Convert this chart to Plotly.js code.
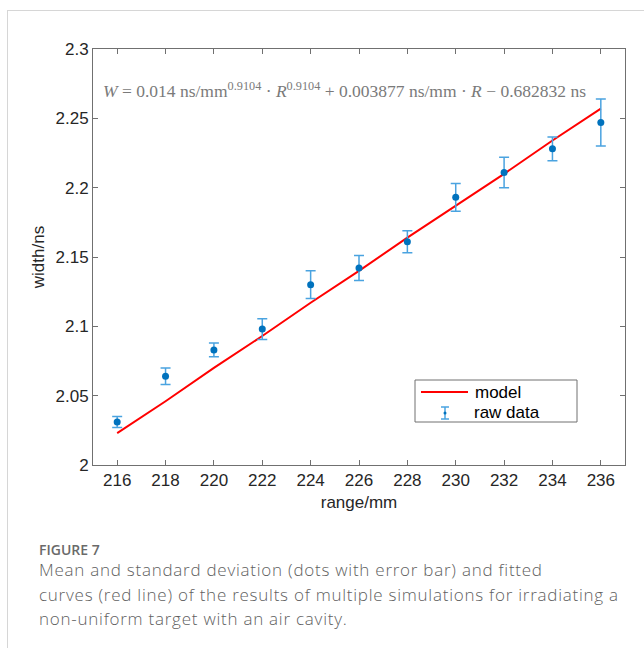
<!DOCTYPE html>
<html>
<head>
<meta charset="utf-8">
<script src="https://cdn.plot.ly/plotly-3.0.1.min.js"></script>
<style>
html,body{margin:0;padding:0;background:#fff;width:644px;height:648px;overflow:hidden;}
#frame{position:absolute;left:7px;top:10px;width:700px;height:700px;border:1px solid #d6d6d6;box-sizing:border-box;}
#chart{position:absolute;left:0;top:0;width:644px;height:648px;}
.cap{position:absolute;left:39px;white-space:nowrap;font-family:"Open Sans","Noto Sans",sans-serif;color:#666;}
.fig{font-size:14px;font-weight:600;color:#6a6a6a;top:542px;line-height:16px;}
.txt{font-size:17px;font-weight:300;letter-spacing:0.75px;line-height:20px;color:#5f5f5f;}
</style>
</head>
<body>
<div id="frame"></div>
<div id="chart"></div>
<div class="cap fig">FIGURE 7</div>
<div class="cap txt" style="top:560px">Mean and standard deviation (dots with error bar) and fitted</div>
<div class="cap txt" style="top:585px">curves (red line) of the results of multiple simulations for irradiating a</div>
<div class="cap txt" style="top:609px">non-uniform target with an air cavity.</div>
<script>
// data
var rangeMM = [216, 218, 220, 222, 224, 226, 228, 230, 232, 234, 236];
var widthMean = [2.031, 2.064, 2.083, 2.098, 2.130, 2.142, 2.161, 2.193, 2.211, 2.228, 2.247];
var widthStd = [0.004, 0.006, 0.005, 0.0075, 0.010, 0.009, 0.008, 0.010, 0.011, 0.0086, 0.017];
var modelWidth = [2.023, 2.046, 2.070, 2.093, 2.117, 2.140, 2.164, 2.187, 2.210, 2.234, 2.257];
var xTicks = [216, 218, 220, 222, 224, 226, 228, 230, 232, 234, 236];
var yTicks = [2, 2.05, 2.1, 2.15, 2.2, 2.25, 2.3];
var yTickText = ['2', '2.05', '2.1', '2.15', '2.2', '2.25', '2.3'];
var legendNames = ['model', 'raw data'];

var W = 644, H = 648, M = {l: 93, r: 19, t: 49, b: 183};
var pw = W - M.l - M.r, ph = H - M.t - M.b;
function px(x) { return (x - M.l) / pw; }
function py(y) { return (H - M.b - y) / ph; }

var lineColor = '#ff0000', dotColor = '#0072bd', errColor = '#4aa3e0', axColor = '#707070';
var axisFont = {family: 'Liberation Sans, Arial, sans-serif', size: 17, color: '#262626'};
var traces = [
  {x: rangeMM, y: modelWidth, mode: 'lines', name: legendNames[0],
   line: {color: lineColor, width: 2}},
  {x: rangeMM, y: widthMean, mode: 'markers', name: legendNames[1],
   marker: {color: dotColor, size: 7},
   error_y: {type: 'data', array: widthStd, visible: true, color: errColor, thickness: 1.5, width: 5}}
];
var common = {showline: true, linecolor: axColor, linewidth: 1, mirror: 'ticks', ticks: 'inside',
  ticklen: 5, tickcolor: axColor, showgrid: false, zeroline: false, tickfont: axisFont};

// custom legend (box, line sample, error-bar glyph, labels)
var shapes = [
  {type: 'rect', xref: 'paper', yref: 'paper', x0: px(415), x1: px(577), y0: py(422), y1: py(380),
   line: {color: axColor, width: 1}, fillcolor: '#ffffff', layer: 'above'},
  {type: 'line', xref: 'paper', yref: 'paper', x0: px(421), x1: px(468), y0: py(392), y1: py(392),
   line: {color: lineColor, width: 2}, layer: 'above'},
  {type: 'line', xref: 'paper', yref: 'paper', x0: px(445), x1: px(445), y0: py(419), y1: py(407),
   line: {color: errColor, width: 1.5}, layer: 'above'},
  {type: 'line', xref: 'paper', yref: 'paper', x0: px(441), x1: px(449), y0: py(407), y1: py(407),
   line: {color: errColor, width: 1.5}, layer: 'above'},
  {type: 'line', xref: 'paper', yref: 'paper', x0: px(441), x1: px(449), y0: py(419), y1: py(419),
   line: {color: errColor, width: 1.5}, layer: 'above'},
  {type: 'circle', xref: 'paper', yref: 'paper', x0: px(443.5), x1: px(446.5), y0: py(414.5), y1: py(411.5),
   line: {color: dotColor, width: 0}, fillcolor: dotColor, layer: 'above'}
];
var legFont = {family: 'Liberation Sans, Arial, sans-serif', size: 17, color: '#000'};
var layout = {
  width: W, height: H,
  paper_bgcolor: 'rgba(0,0,0,0)', plot_bgcolor: '#fff',
  margin: M,
  showlegend: false,
  xaxis: Object.assign({}, common, {range: [215, 237], tickvals: xTicks,
    title: {text: 'range/mm', font: axisFont, standoff: 6}}),
  yaxis: Object.assign({}, common, {range: [2, 2.3], tickvals: yTicks, ticktext: yTickText,
    title: {text: 'width/ns', font: axisFont, standoff: 6}}),
  shapes: shapes,
  annotations: [
    {xref: 'paper', yref: 'paper', x: px(101), y: py(90), xanchor: 'left', yanchor: 'middle', showarrow: false,
     text: '<i>W</i> = 0.014 ns/mm<sup>0.9104</sup> · <i>R</i><sup>0.9104</sup> + 0.003877 ns/mm · <i>R</i> − 0.682832 ns',
     font: {family: 'Liberation Serif, DejaVu Serif, serif', size: 17.5, color: '#7a7a7a'}},
    {xref: 'paper', yref: 'paper', x: px(473), y: py(392), xanchor: 'left', yanchor: 'middle', showarrow: false,
     text: legendNames[0], font: legFont},
    {xref: 'paper', yref: 'paper', x: px(472), y: py(412), xanchor: 'left', yanchor: 'middle', showarrow: false,
     text: legendNames[1], font: legFont}
  ]
};
Plotly.newPlot('chart', traces, layout, {displayModeBar: false, staticPlot: true});
</script>
</body>
</html>
